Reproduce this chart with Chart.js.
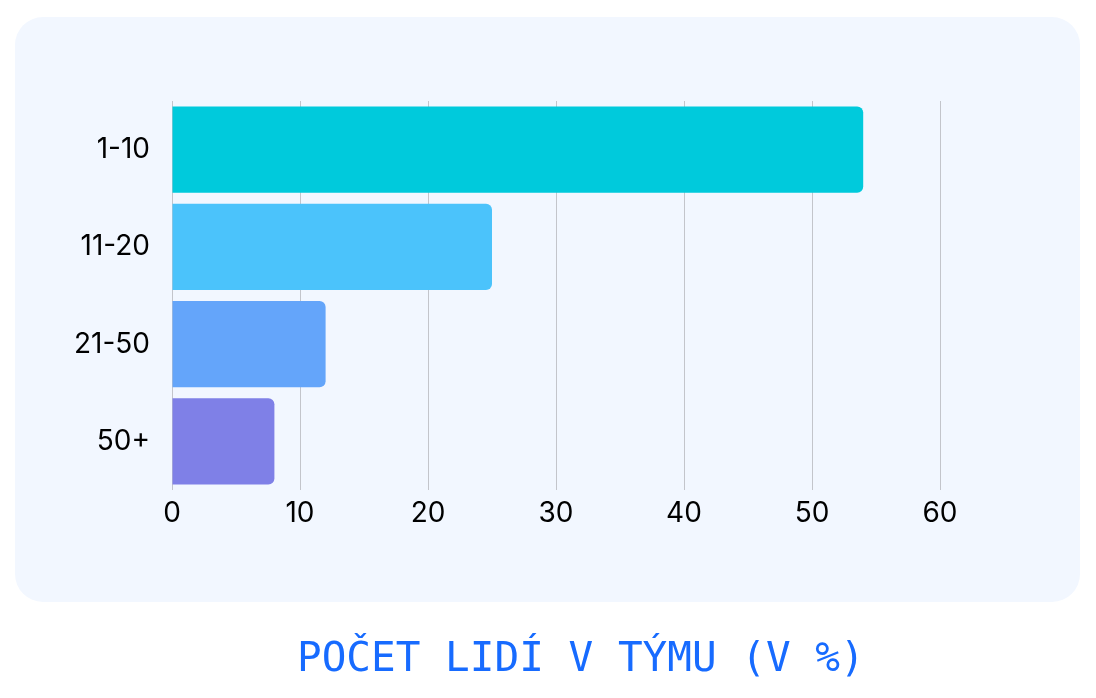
<!DOCTYPE html>
<html>
<head>
<meta charset="utf-8">
<script src="https://cdn.jsdelivr.net/npm/chart.js@4"></script>
<style>
  body { margin: 0; background: #fff; width: 1096px; height: 698px; position: relative; overflow: hidden; }
  #card { position: absolute; left: 15px; top: 17px; width: 1065px; height: 585px; background: #F2F7FF; border-radius: 28px; }
  #wrap { position: absolute; left: 0; top: 0; width: 1096px; height: 698px; }
  #title { position: absolute; left: 297px; top: 633px; font-family: "DejaVu Sans Mono", monospace; font-size: 41px; color: #176BFF; white-space: nowrap; }
</style>
</head>
<body>
<div id="card"></div>
<div id="wrap"><canvas id="mycanvas" width="1096" height="698"></canvas></div>
<div id="title">POČET LIDÍ V TÝMU (V %)</div>
<script>
var categories = ["1-10", "11-20", "21-50", "50+"];
var values = [54, 25, 12, 8];
var colors = ["#00CADC", "#4BC3FB", "#64A5FA", "#7F80E7"];
var xTicks = [0, 10, 20, 30, 40, 50, 60];

var chartdata = {
	labels: categories,
	datasets: [
		{
			data: values,
			backgroundColor: colors,
			borderWidth: 0,
			borderRadius: 6,
			borderSkipped: 'start',
			categoryPercentage: 1,
			barPercentage: 0.885
		}
	]
};

var ctx = document.getElementById("mycanvas");

var barGraph = new Chart(ctx, {
	type: 'bar',
	data: chartdata,
	options: {
		indexAxis: 'y',
		responsive: false,
		animation: false,
		layout: { padding: { top: 101, right: 156, bottom: 148, left: 0 } },
		plugins: { legend: { display: false }, tooltip: { enabled: false } },
		scales: {
			x: {
				min: xTicks[0],
				max: xTicks[xTicks.length - 1],
				afterBuildTicks: function(scale) {
					scale.ticks = xTicks.map(function(v) { return { value: v }; });
				},
				grid: { color: '#C3C5CB', lineWidth: 1, drawTicks: false },
				border: { display: false },
				ticks: { color: '#000', padding: 7, font: { family: 'Inter', size: 28 } },
				afterFit: function(scale) { scale.height = 60; }
			},
			y: {
				grid: { display: false, drawTicks: false },
				border: { display: false },
				ticks: { color: '#000', padding: 22, font: { family: 'Inter', size: 28 } },
				afterFit: function(scale) { scale.width = 172; }
			}
		}
	}
});
</script>
</body>
</html>
